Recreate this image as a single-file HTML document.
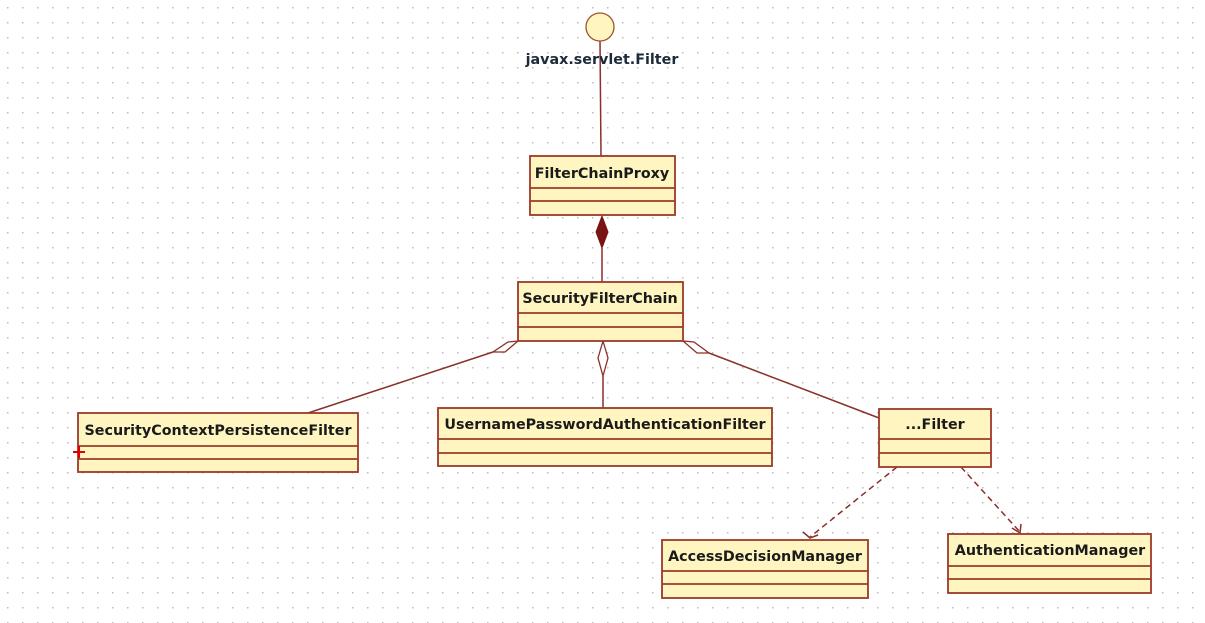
<!DOCTYPE html>
<html><head><meta charset="utf-8"><style>
body{margin:0;background:#fff;}
svg{display:block;}
text{font-family:"DejaVu Sans","Liberation Sans",sans-serif;font-weight:bold;font-size:14.3px;fill:#1a1a1a;}
</style></head><body>
<svg width="1205" height="623" viewBox="0 0 1205 623" xmlns="http://www.w3.org/2000/svg">
<defs>
<pattern id="dots" width="15" height="15" patternUnits="userSpaceOnUse">
<rect x="7" y="7" width="1.5" height="1.5" fill="#bdbdbd"/>
</pattern>
</defs>
<rect width="1205" height="623" fill="#fff"/>
<rect width="1205" height="623" fill="url(#dots)"/>
<g stroke="#8b2f2a" stroke-width="1.5" fill="none">
<line x1="600" y1="41" x2="601" y2="156"/>
<line x1="602" y1="248" x2="602" y2="282"/>
<line x1="493" y1="352" x2="308" y2="413"/>
<line x1="603" y1="376" x2="603" y2="408"/>
<line x1="709" y1="353" x2="879" y2="418"/>
<line x1="897" y1="467" x2="810" y2="537" stroke-dasharray="6,4"/>
<line x1="961" y1="467" x2="1020" y2="532" stroke-dasharray="6,4"/>
<polyline points="803,532 810,538 818,535"/>
<polyline points="1012,528 1020,533 1021,524"/>
</g>
<polygon points="602,216 608,232 602,248 596,232" fill="#7a1414" stroke="#7a1414"/>
<polygon points="518,341 508,342 493,352 505,352" fill="#fff" stroke="#8b2f2a" stroke-width="1.3"/>
<polygon points="603,341 608,358 603,376 598,358" fill="#fff" stroke="#8b2f2a" stroke-width="1.3"/>
<polygon points="683,341 694,342 709,353 697,353" fill="#fff" stroke="#8b2f2a" stroke-width="1.3"/>
<circle cx="600" cy="27" r="14" fill="#fff5c0" stroke="#a0522d" stroke-width="1.3"/>
<text x="602" y="64" text-anchor="middle" style="fill:#1c2a3a">javax.servlet.Filter</text>
<g fill="#fff5c0" stroke="#9b3a2a" stroke-width="1.8">
<rect x="530" y="156" width="145" height="59"/>
<line x1="530" y1="188" x2="675" y2="188"/><line x1="530" y1="201" x2="675" y2="201"/>
<rect x="518" y="282" width="165" height="59"/>
<line x1="518" y1="313" x2="683" y2="313"/><line x1="518" y1="327" x2="683" y2="327"/>
<rect x="78" y="413" width="280" height="59"/>
<line x1="78" y1="446" x2="358" y2="446"/><line x1="78" y1="459" x2="358" y2="459"/>
<rect x="438" y="408" width="334" height="58"/>
<line x1="438" y1="439" x2="772" y2="439"/><line x1="438" y1="453" x2="772" y2="453"/>
<rect x="879" y="409" width="112" height="58"/>
<line x1="879" y1="439" x2="991" y2="439"/><line x1="879" y1="453" x2="991" y2="453"/>
<rect x="662" y="540" width="206" height="58"/>
<line x1="662" y1="571" x2="868" y2="571"/><line x1="662" y1="584" x2="868" y2="584"/>
<rect x="948" y="534" width="203" height="59"/>
<line x1="948" y1="566" x2="1151" y2="566"/><line x1="948" y1="579" x2="1151" y2="579"/>
</g>
<text x="602" y="178" text-anchor="middle">FilterChainProxy</text>
<text x="600" y="303" text-anchor="middle">SecurityFilterChain</text>
<text x="218" y="435" text-anchor="middle">SecurityContextPersistenceFilter</text>
<text x="605" y="429" text-anchor="middle">UsernamePasswordAuthenticationFilter</text>
<text x="935" y="429" text-anchor="middle">...Filter</text>
<text x="765" y="561" text-anchor="middle">AccessDecisionManager</text>
<text x="1050" y="555" text-anchor="middle">AuthenticationManager</text>
<g stroke="#e00000" stroke-width="2"><line x1="73" y1="452" x2="85" y2="452"/><line x1="79" y1="446" x2="79" y2="458"/></g>
</svg>
</body></html>
